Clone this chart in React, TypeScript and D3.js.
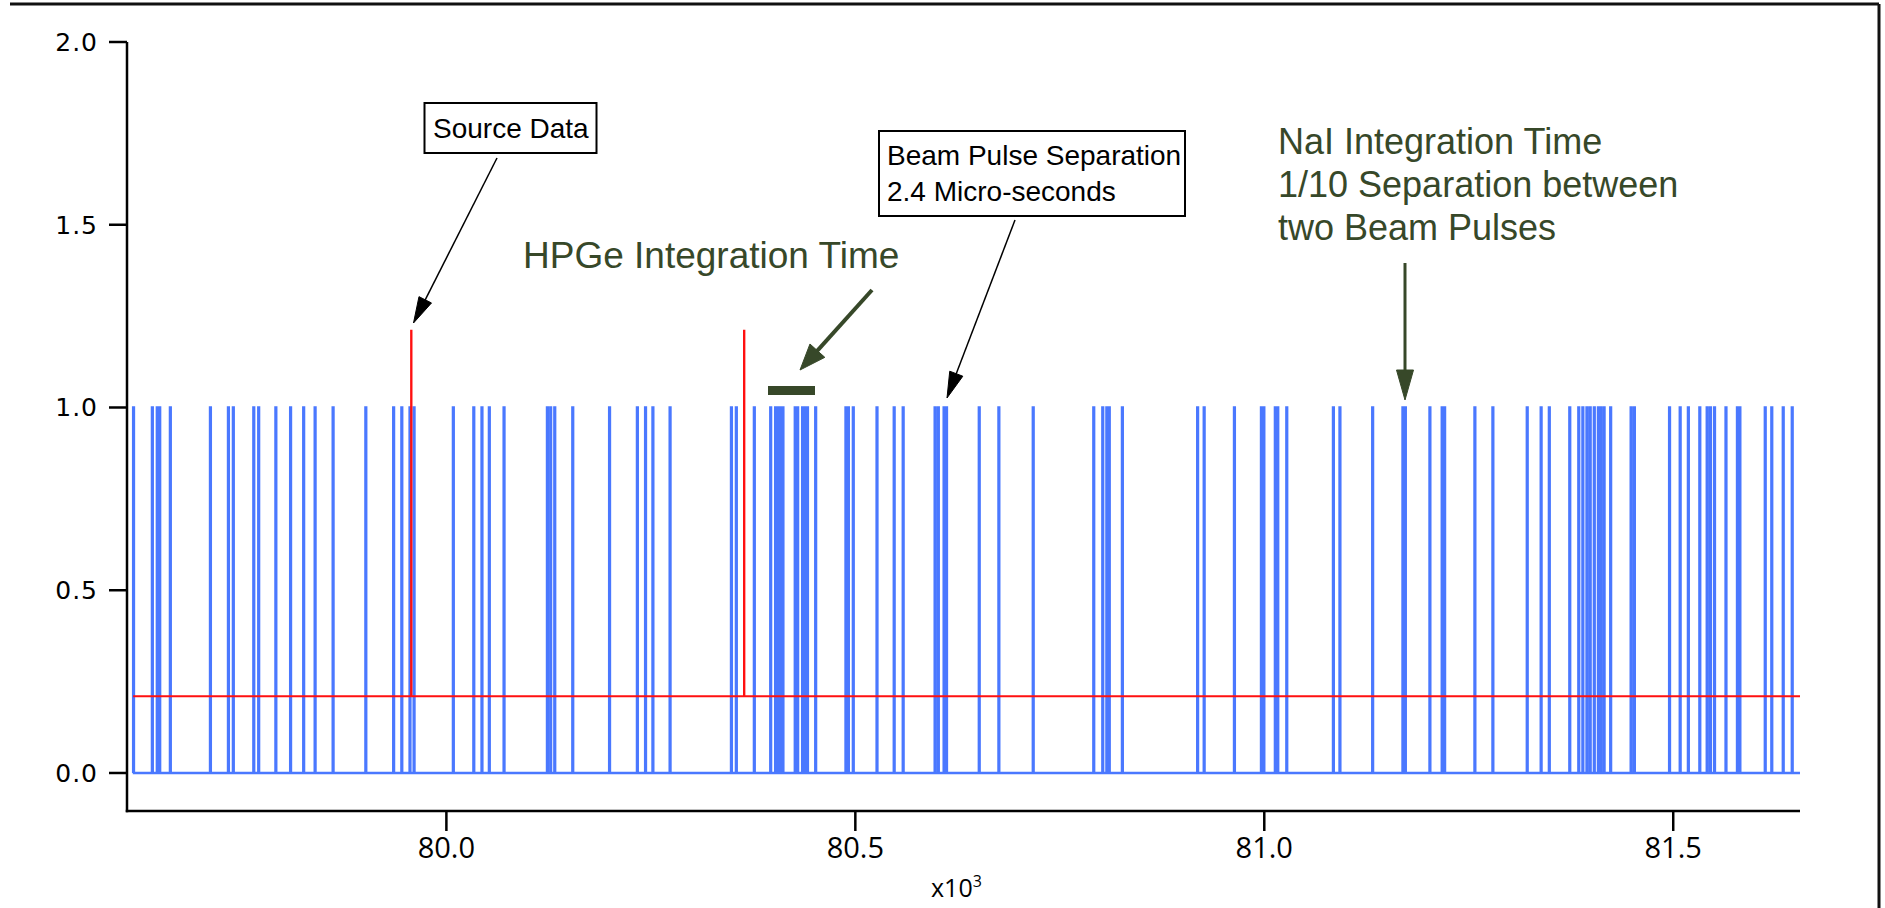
import React from 'react';
import * as d3 from 'd3';

// ---- data (x in raw units, axis shows x10^3) ----
const seriesStart = 79617;
const seriesEnd = 81655;
const blueSpikes = [
  79617, 79640, 79646, 79649, 79662, 79711, 79733, 79739, 79764, 79770,
  79791, 79809, 79825, 79839, 79861, 79901, 79935, 79945, 79955, 79960,
  80008, 80033, 80043, 80052, 80070, 80123, 80127, 80132, 80154, 80199,
  80233, 80243, 80252, 80273, 80348, 80354, 80376, 80396, 80402, 80405,
  80408, 80411, 80426, 80429, 80435, 80438, 80441, 80451, 80488, 80491,
  80497, 80526, 80547, 80558, 80597, 80601, 80608, 80611, 80651, 80675,
  80717, 80791, 80802, 80807, 80810, 80826, 80918, 80926, 80963, 80996,
  80999, 81013, 81016, 81027, 81084, 81092, 81132, 81169, 81172, 81202,
  81217, 81220, 81257, 81279, 81321, 81338, 81348, 81373, 81384, 81389,
  81394, 81398, 81403, 81408, 81411, 81415, 81423, 81448, 81452, 81495,
  81508, 81518, 81532, 81541, 81545, 81550, 81564, 81578, 81581, 81612,
  81620, 81634, 81645,
];
const blueHigh = 1.0;
const redSpikes = [79957, 80364];
const redBase = 0.21;
const redHigh = 1.21;
const xTicks = [80000, 80500, 81000, 81500];
const yTicks = [0, 0.5, 1.0, 1.5, 2.0];
const xDomain = [79609.5, 81655];
const yDomain = [-0.104, 2.0];

const GREEN = '#374829';
const BLUE = '#4a78ff';

function arrowParts(x1: number, y1: number, x2: number, y2: number, len: number, wid: number) {
  const a = Math.atan2(y2 - y1, x2 - x1);
  const c = Math.cos(a), s = Math.sin(a);
  const bx = x2 - len * c, by = y2 - len * s;
  const px = -s * wid / 2, py = c * wid / 2;
  return {
    bx: bx + c * 2, by: by + s * 2,
    head: `${x2},${y2} ${bx + px},${by + py} ${bx - px},${by - py}`,
  };
}

function Arrow({ x1, y1, x2, y2, len, wid, color, sw }: any) {
  const p = arrowParts(x1, y1, x2, y2, len, wid);
  return (
    <g>
      <line x1={x1} y1={y1} x2={p.bx} y2={p.by} stroke={color} strokeWidth={sw} />
      <polygon points={p.head} fill={color} stroke={color} strokeWidth={1} strokeLinejoin="miter" />
    </g>
  );
}

export default function App() {
  const W = 1885, H = 908;
  const x = d3.scaleLinear().domain(xDomain).range([127, 1800]);
  const y = d3.scaleLinear().domain(yDomain).range([811, 42]);
  const line = d3.line<[number, number]>().x(d => x(d[0])).y(d => y(d[1]));

  const pulse = 1.0;
  const bluePts: [number, number][] = [[seriesStart, 0]];
  blueSpikes.forEach(t => {
    bluePts.push([t, 0], [t, blueHigh], [t + pulse, blueHigh], [t + pulse, 0]);
  });
  bluePts.push([seriesEnd, 0]);

  const redPts: [number, number][] = [[seriesStart, redBase]];
  redSpikes.forEach(t => {
    redPts.push([t, redBase], [t, redHigh], [t + 0.2, redHigh], [t + 0.2, redBase]);
  });
  redPts.push([seriesEnd, redBase]);

  const axisY = y(yDomain[0]);
  const axisX = x(xDomain[0]);

  return (
    <svg width={W} height={H} style={{ position: 'absolute', left: 0, top: 0, background: '#fff' }}>
      <rect x={0} y={0} width={W} height={H} fill="#fff" />
      {/* frame */}
      <line x1={10} y1={4} x2={1879} y2={4} stroke="#111" strokeWidth={3} />
      <line x1={1879} y1={4} x2={1879} y2={H} stroke="#111" strokeWidth={3} />

      {/* data */}
      <path d={line(bluePts) || ''} fill="none" stroke={BLUE} strokeWidth={2.4} strokeLinejoin="miter" />
      <path d={line(redPts) || ''} fill="none" stroke="#ff1010" strokeWidth={2.2} />

      {/* y axis */}
      <line x1={axisX} y1={y(2)} x2={axisX} y2={axisY + 1.25} stroke="#000" strokeWidth={2.5} />
      {yTicks.map(v => (
        <g key={'y' + v}>
          <line x1={109} x2={axisX} y1={y(v)} y2={y(v)} stroke="#000" strokeWidth={2.5} />
          <text x={98} y={y(v)} dy="0.36em" textAnchor="end" fontFamily="DejaVu Sans" fontSize={25}
            letterSpacing={1} fill="#000">{v.toFixed(1)}</text>
        </g>
      ))}

      {/* x axis */}
      <line x1={axisX - 1.25} y1={axisY} x2={1800} y2={axisY} stroke="#000" strokeWidth={2.5} />
      {xTicks.map(v => (
        <g key={'x' + v}>
          <line x1={x(v)} x2={x(v)} y1={axisY} y2={axisY + 20} stroke="#000" strokeWidth={2.5} />
          <text x={x(v)} y={858} textAnchor="middle" fontFamily="Open Sans" fontSize={29} fill="#000">
            {(v / 1000).toFixed(1)}
          </text>
        </g>
      ))}
      <text x={931} y={897} fontFamily="Open Sans" fontSize={25} fill="#000">
        x10<tspan dy={-10} fontSize={16}>3</tspan>
      </text>

      {/* Source Data annotation */}
      <rect x={424.5} y={103} width={172} height={50} fill="#fff" stroke="#000" strokeWidth={2} />
      <text x={433} y={138} fontFamily="Liberation Sans" fontSize={28} fill="#000">Source Data</text>
      <Arrow x1={497} y1={158} x2={413.5} y2={323} len={26} wid={14} color="#000" sw={1.5} />

      {/* Beam pulse annotation */}
      <rect x={879} y={131} width={306} height={85} fill="#fff" stroke="#000" strokeWidth={2} />
      <text x={887} y={165} fontFamily="Liberation Sans" fontSize={28} fill="#000">Beam Pulse Separation</text>
      <text x={887} y={201} fontFamily="Liberation Sans" fontSize={28} fill="#000">2.4 Micro-seconds</text>
      <Arrow x1={1015} y1={220} x2={947} y2={398} len={26} wid={14} color="#000" sw={1.5} />

      {/* HPGe */}
      <text x={523} y={268} fontFamily="Liberation Sans" fontSize={37} fill={GREEN}>HPGe Integration Time</text>
      <Arrow x1={872} y1={290} x2={800} y2={370} len={26} wid={20} color={GREEN} sw={4} />
      <rect x={768} y={386} width={47} height={9} fill={GREEN} />

      {/* NaI */}
      <text fontFamily="Liberation Sans" fontSize={36} fill={GREEN}>
        <tspan x={1278} y={154}>NaI Integration Time</tspan>
        <tspan x={1278} y={197}>1/10 Separation between</tspan>
        <tspan x={1278} y={240}>two Beam Pulses</tspan>
      </text>
      <Arrow x1={1405} y1={263} x2={1405} y2={400} len={30} wid={17} color={GREEN} sw={3} />
    </svg>
  );
}
